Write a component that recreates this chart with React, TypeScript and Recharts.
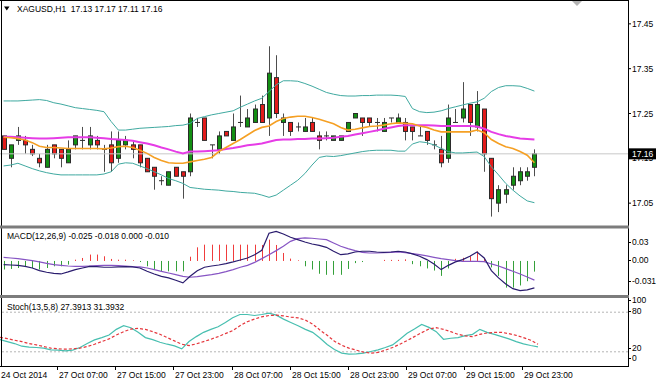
import React from "react";
import { ComposedChart, Bar, Line, XAxis, YAxis, ReferenceLine } from "recharts";

// XAGUSD H1, one entry per hourly bar, first bar = 24 Oct 2014 23:00
const opens = [
  17.20, 17.15, 17.19, 17.19, 17.17, 17.15, 17.13, 17.18, 17.17, 17.14,
  17.18, 17.19, 17.18, 17.19, 17.17, 17.18, 17.15, 17.18, 17.18, 17.18,
  17.15, 17.13, 17.10, 17.09, 17.13, 17.12, 17.12, 17.23, 17.24, 17.18,
  17.17, 17.21, 17.19, 17.23, 17.22, 17.23, 17.27, 17.24, 17.33, 17.23,
  17.23, 17.22, 17.21, 17.23, 17.20, 17.20, 17.19, 17.19, 17.21, 17.24,
  17.24, 17.24, 17.23, 17.21, 17.24, 17.23, 17.23, 17.22, 17.20, 17.21,
  17.18, 17.17, 17.15, 17.23, 17.24, 17.27, 17.22, 17.26, 17.15, 17.05,
  17.07, 17.09, 17.10, 17.11, 17.13,
];
const highs = [
  17.20, 17.18, 17.22, 17.20, 17.18, 17.16, 17.18, 17.18, 17.17, 17.19,
  17.20, 17.22, 17.22, 17.20, 17.18, 17.21, 17.21, 17.20, 17.19, 17.18,
  17.15, 17.13, 17.11, 17.12, 17.13, 17.12, 17.25, 17.24, 17.24, 17.18,
  17.21, 17.21, 17.25, 17.29, 17.26, 17.27, 17.29, 17.40, 17.38, 17.25,
  17.23, 17.23, 17.24, 17.24, 17.21, 17.21, 17.20, 17.20, 17.23, 17.25,
  17.24, 17.24, 17.24, 17.24, 17.24, 17.25, 17.24, 17.22, 17.22, 17.21,
  17.19, 17.20, 17.27, 17.26, 17.32, 17.27, 17.30, 17.26, 17.15, 17.09,
  17.09, 17.13, 17.13, 17.13, 17.17,
];
const lows = [
  17.17, 17.13, 17.18, 17.16, 17.155, 17.13, 17.13, 17.15, 17.13, 17.14,
  17.17, 17.17, 17.17, 17.17, 17.12, 17.12, 17.14, 17.17, 17.15, 17.13,
  17.12, 17.08, 17.09, 17.09, 17.11, 17.06, 17.11, 17.22, 17.19, 17.15,
  17.16, 17.20, 17.19, 17.22, 17.22, 17.23, 17.23, 17.20, 17.24, 17.20,
  17.20, 17.21, 17.21, 17.21, 17.17, 17.19, 17.19, 17.19, 17.21, 17.24,
  17.20, 17.22, 17.21, 17.21, 17.23, 17.23, 17.19, 17.19, 17.20, 17.18,
  17.17, 17.13, 17.14, 17.23, 17.23, 17.20, 17.21, 17.12, 17.02, 17.03,
  17.05, 17.08, 17.09, 17.10, 17.11,
];
const closes = [
  17.17, 17.18, 17.20, 17.18, 17.16, 17.14, 17.17, 17.16, 17.15, 17.17,
  17.20, 17.19, 17.20, 17.18, 17.17, 17.14, 17.19, 17.19, 17.17, 17.14,
  17.12, 17.11, 17.10, 17.12, 17.11, 17.11, 17.24, 17.23, 17.19, 17.18,
  17.20, 17.20, 17.22, 17.23, 17.24, 17.26, 17.23, 17.34, 17.25, 17.24,
  17.21, 17.22, 17.22, 17.21, 17.19, 17.20, 17.20, 17.20, 17.23, 17.25,
  17.23, 17.23, 17.23, 17.23, 17.24, 17.24, 17.21, 17.21, 17.20, 17.19,
  17.18, 17.14, 17.24, 17.23, 17.26, 17.23, 17.27, 17.16, 17.06, 17.08,
  17.08, 17.11, 17.12, 17.12, 17.16,
];

// Bollinger bands (upper / lower) and two moving averages
const bbUpper = [
  17.278, 17.278, 17.278, 17.279, 17.280, 17.281, 17.279, 17.274, 17.271, 17.267,
  17.263, 17.261, 17.259, 17.257, 17.254, 17.232, 17.213, 17.213, 17.215, 17.217,
  17.218, 17.219, 17.220, 17.221, 17.223, 17.224, 17.228, 17.239, 17.243, 17.247,
  17.250, 17.253, 17.256, 17.264, 17.271, 17.278, 17.284, 17.299, 17.314, 17.323,
  17.323, 17.322, 17.317, 17.311, 17.304, 17.297, 17.293, 17.290, 17.289, 17.289,
  17.290, 17.290, 17.291, 17.291, 17.291, 17.290, 17.288, 17.261, 17.254, 17.252,
  17.253, 17.256, 17.261, 17.265, 17.269, 17.273, 17.276, 17.284, 17.299, 17.308,
  17.312, 17.312, 17.311, 17.306, 17.300,
];
const bbLower = [
  17.133, 17.135, 17.139, 17.133, 17.127, 17.122, 17.118, 17.115, 17.113, 17.113,
  17.113, 17.113, 17.113, 17.113, 17.115, 17.120, 17.137, 17.140, 17.139, 17.133,
  17.127, 17.120, 17.113, 17.105, 17.100, 17.094, 17.085, 17.083, 17.081, 17.080,
  17.079, 17.077, 17.076, 17.074, 17.073, 17.072, 17.068, 17.063, 17.068, 17.079,
  17.090, 17.101, 17.116, 17.135, 17.152, 17.155, 17.154, 17.156, 17.159, 17.162,
  17.165, 17.167, 17.168, 17.168, 17.168, 17.166, 17.166, 17.182, 17.187, 17.185,
  17.180, 17.172, 17.165, 17.162, 17.162, 17.163, 17.164, 17.154, 17.131, 17.113,
  17.094, 17.079, 17.066, 17.055, 17.051,
];
const maFast = [
  17.197, 17.196, 17.194, 17.191, 17.185, 17.177, 17.174, 17.174, 17.173, 17.172,
  17.172, 17.172, 17.172, 17.172, 17.171, 17.173, 17.176, 17.177, 17.174, 17.168,
  17.161, 17.152, 17.145, 17.140, 17.139, 17.139, 17.142, 17.145, 17.148, 17.152,
  17.165, 17.174, 17.183, 17.192, 17.202, 17.212, 17.219, 17.222, 17.232, 17.239,
  17.242, 17.244, 17.244, 17.241, 17.237, 17.232, 17.227, 17.219, 17.213, 17.215,
  17.218, 17.221, 17.222, 17.224, 17.227, 17.229, 17.228, 17.227, 17.222, 17.219,
  17.213, 17.209, 17.209, 17.209, 17.209, 17.209, 17.213, 17.207, 17.192, 17.183,
  17.176, 17.172, 17.165, 17.157, 17.140,
];
const maSlow = [
  17.198, 17.198, 17.197, 17.196, 17.195, 17.194, 17.194, 17.195, 17.196, 17.197,
  17.197, 17.197, 17.197, 17.196, 17.195, 17.193, 17.192, 17.191, 17.189, 17.186,
  17.183, 17.179, 17.174, 17.170, 17.165, 17.161, 17.165, 17.165, 17.166, 17.167,
  17.168, 17.171, 17.173, 17.176, 17.179, 17.181, 17.183, 17.187, 17.191, 17.192,
  17.192, 17.193, 17.193, 17.194, 17.194, 17.195, 17.196, 17.198, 17.200, 17.203,
  17.206, 17.209, 17.212, 17.216, 17.219, 17.222, 17.224, 17.224, 17.224, 17.224,
  17.223, 17.222, 17.222, 17.222, 17.222, 17.222, 17.221, 17.216, 17.209, 17.204,
  17.200, 17.197, 17.194, 17.193, 17.192,
];

// MACD(12,26,9)
const macdMain = [
  -0.0034, -0.0038, -0.0041, -0.0050, -0.0066, -0.0091, -0.0106, -0.0116, -0.0122, -0.0103,
  -0.0081, -0.0066, -0.0050, -0.0053, -0.0059, -0.0059, -0.0056, -0.0053, -0.0056, -0.0066,
  -0.0097, -0.0122, -0.0144, -0.0159, -0.0181, -0.0206, -0.0144, -0.0091, -0.0059, -0.0047,
  -0.0038, -0.0025, -0.0009, 0.0009, 0.0028, 0.0059, 0.0100, 0.0260, 0.0278, 0.0253,
  0.0222, 0.0200, 0.0178, 0.0159, 0.0147, 0.0128, 0.0091, 0.0059, 0.0066, 0.0084,
  0.0091, 0.0091, 0.0084, 0.0081, 0.0084, 0.0091, 0.0084, 0.0066, 0.0044, 0.0013,
  -0.0028, -0.0081, -0.0041, -0.0009, 0.0013, 0.0044, 0.0084, 0.0028, -0.0091, -0.0159,
  -0.0216, -0.0260, -0.0278, -0.0272, -0.0253,
];
const macdSignal = [
  0.0034, 0.0028, 0.0022, 0.0013, 0.0003, -0.0009, -0.0022, -0.0034, -0.0041, -0.0047,
  -0.0050, -0.0050, -0.0047, -0.0044, -0.0041, -0.0041, -0.0044, -0.0047, -0.0053, -0.0056,
  -0.0066, -0.0081, -0.0097, -0.0113, -0.0128, -0.0144, -0.0153, -0.0147, -0.0138, -0.0128,
  -0.0116, -0.0100, -0.0081, -0.0059, -0.0041, -0.0013, 0.0022, 0.0059, 0.0097, 0.0138,
  0.0184, 0.0210, 0.0216, 0.0213, 0.0206, 0.0200, 0.0169, 0.0138, 0.0116, 0.0097,
  0.0081, 0.0075, 0.0075, 0.0078, 0.0081, 0.0084, 0.0078, 0.0069, 0.0059, 0.0047,
  0.0034, 0.0022, 0.0013, 0.0003, -0.0003, -0.0003, -0.0003, -0.0006, -0.0028, -0.0047,
  -0.0072, -0.0097, -0.0122, -0.0150, -0.0180,
];
const macdHist = [
  -0.0080, -0.0075, -0.0066, -0.0050, -0.0066, -0.0080, -0.0066, -0.0050, -0.0050, -0.0034,
  0.0012, 0.0028, 0.0060, 0.0060, 0.0044, 0.0019, 0.0012, 0.0012, 0.0006, -0.0010,
  -0.0050, -0.0075, -0.0097, -0.0097, -0.0097, -0.0097, 0.0040, 0.0128, 0.0153, 0.0153,
  0.0153, 0.0153, 0.0153, 0.0153, 0.0153, 0.0153, 0.0150, 0.0200, 0.0150, 0.0075,
  0.0022, 0.0006, -0.0050, -0.0080, -0.0120, -0.0130, -0.0130, -0.0130, -0.0075, -0.0020,
  -0.0010, 0, 0, 0.0010, 0.0010, 0.0010, 0.0015, -0.0030, -0.0050, -0.0070,
  -0.0090, -0.0140, -0.0070, 0.0020, 0.0030, 0.0045, 0.0090, 0.0020, -0.0060, -0.0140,
  -0.0250, -0.0250, -0.0230, -0.0190, -0.0100,
];

// Stoch(13,5,8)
const stochK = [
  38.5, 35.5, 32.5, 28.5, 27, 26.5, 25.5, 23, 22.5, 21.5,
  22.5, 26.5, 32.5, 38, 41.5, 45.5, 54, 59.5, 56.5, 49.5,
  41.5, 38.5, 34.5, 31.5, 29, 24.5, 35.5, 43, 49.5, 54,
  58, 64.5, 71.5, 76.5, 76.5, 75, 76.5, 78.5, 75.5, 69.5,
  64.5, 59.5, 54, 49.5, 41, 31, 23.5, 18, 16.5, 17,
  18, 20.5, 23, 26.5, 30.5, 39, 48, 54.5, 61.5, 57,
  50.5, 39, 40.5, 41.5, 44.5, 46.5, 54, 49.5, 46.5, 43,
  39.5, 35.5, 32, 29.5, 27.3913,
];
const stochD = [
  42, 40, 37.5, 35.5, 32.5, 30.5, 28, 25.5, 24.5, 24,
  24.5, 25.5, 28, 31.5, 35.5, 39.5, 45.5, 50.5, 54.5, 55.5,
  54, 50.5, 46.5, 41.5, 36.5, 31.5, 29.5, 32, 35.5, 39,
  43, 47.5, 52, 59.5, 65.5, 69.5, 73, 75, 75.5, 74.5,
  72.5, 71.5, 68, 62, 53, 45, 36, 30, 25.5, 22.5,
  19.5, 18, 19, 22.5, 26.5, 31.5, 37, 43, 49, 54.5,
  56.5, 54, 50.5, 46.5, 44, 43, 46.5, 48.5, 49.5, 49.5,
  47.5, 45, 41.5, 37.5, 31.3932,
];

// time scale labels, and the bar each one sits on
const timeTickBars = [0, 8, 16, 24, 32, 40, 48, 56, 64, 72];
const timeTickLabels = [
  "24 Oct 2014", "27 Oct 07:00", "27 Oct 15:00", "27 Oct 23:00", "28 Oct 07:00",
  "28 Oct 15:00", "28 Oct 23:00", "29 Oct 07:00", "29 Oct 15:00", "29 Oct 23:00",
];

const priceTicks = [17.45, 17.35, 17.25, 17.15, 17.05];
const lastPrice = 17.16;
const macdTicks = [0.03, 0, -0.031];
const macdTickLabels = ["0.03", "0.00", "-0.031"];
const stochTicks = [100, 80, 20, 0];
const stochTickLabels = ["100", "80", "20", "0"];
const stochLevels = [80, 20];

const FONT = "Tahoma, 'Liberation Sans', Arial, sans-serif";
const FS = 8.5;
const W = 663;
const AXIS_W = 35;
const SHIFT = 90; // empty room right of the last bar

const BULL = "#138f13";
const BEAR = "#e21b1b";
const EDGE = "#2b2b2b";
const WICK = "#4d4d4d";
const BB = "#3fa9a0";
const MA_FAST = "#f5a024";
const MA_SLOW = "#e63ce6";
const HIST_UP = "#f03c3c";
const HIST_DN = "#35a03a";
const MACD_MAIN = "#2a1c6e";
const MACD_SIG = "#8755c4";
const STOCH_K = "#48bfb0";
const STOCH_D = "#e5363c";

const rows = opens.map((open, i) => ({
  i,
  open,
  high: highs[i],
  low: lows[i],
  close: closes[i],
  range: [lows[i], highs[i]],
  bbUp: bbUpper[i],
  bbDn: bbLower[i],
  maFast: maFast[i],
  maSlow: maSlow[i],
  macd: macdMain[i],
  signal: macdSignal[i],
  hist: macdHist[i],
  k: stochK[i],
  d: stochD[i],
}));

function Candle(props: any) {
  const { x, y, width, height, payload } = props;
  if (!payload || y == null) return null;
  const { open, close, high, low } = payload;
  const span = high - low;
  const at = (v: number) => (span > 0 ? y + ((high - v) / span) * height : y);
  const cx = Math.round(x + width / 2) + 0.5;
  const top = at(Math.max(open, close));
  const bottom = at(Math.min(open, close));
  const up = close > open;
  const down = close < open;
  return (
    <g>
      <line x1={cx} x2={cx} y1={y} y2={y + height} stroke={WICK} />
      {up || down ? (
        <rect
          x={cx - 2}
          y={top}
          width={4}
          height={Math.max(bottom - top, 1)}
          fill={up ? BULL : BEAR}
          stroke={EDGE}
          strokeWidth={1}
        />
      ) : (
        <line x1={cx - 2.5} x2={cx + 2.5} y1={top} y2={top} stroke={EDGE} />
      )}
    </g>
  );
}

function HistBar(props: any) {
  const { x, y, width, height, payload } = props;
  if (!payload || !height) return null;
  const cx = Math.round(x + width / 2) + 0.5;
  return (
    <line
      x1={cx}
      x2={cx}
      y1={y}
      y2={y + height}
      stroke={payload.hist >= 0 ? HIST_UP : HIST_DN}
    />
  );
}

function PriceTick(props: any) {
  const { x, y, payload } = props;
  const v = payload.value;
  if (v === lastPrice) {
    return (
      <g>
        <rect x={x - 3} y={y - 5.5} width={27} height={11} fill="#000" />
        <text x={x} y={y} dominantBaseline="central" fill="#fff" fontSize={FS} fontFamily={FONT}>
          {v.toFixed(2)}
        </text>
      </g>
    );
  }
  return (
    <text x={x} y={y} dominantBaseline="central" fill="#000" fontSize={FS} fontFamily={FONT}>
      {v.toFixed(2)}
    </text>
  );
}

// MT4 squeezes the min/max labels inside the sub-window
function sideTick(values: number[], labels: string[], shifts: number[]) {
  return (props: any) => {
    const { x, y, payload } = props;
    const idx = values.indexOf(payload.value);
    if (idx < 0) return null;
    const ty = y + shifts[idx];
    return (
      <g>
        <line x1={x - 4} x2={x - 1} y1={Math.round(ty) + 0.5} y2={Math.round(ty) + 0.5} stroke="#000" />
        <text x={x} y={ty} dominantBaseline="central" fill="#000" fontSize={FS} fontFamily={FONT}>
          {labels[idx]}
        </text>
      </g>
    );
  };
}

function TimeTick(props: any) {
  const { x, y, payload } = props;
  const idx = timeTickBars.indexOf(payload.value);
  if (idx < 0) return null;
  const tx = Math.round(x) - 0.5;
  return (
    <g>
      <line x1={tx} x2={tx} y1={y + 1.5} y2={y + 5} stroke="#000" />
      <text x={tx + 1.5} y={y + 10} dominantBaseline="central" fill="#000" fontSize={FS} fontFamily={FONT}>
        {timeTickLabels[idx]}
      </text>
    </g>
  );
}

const xAxisProps = {
  dataKey: "i",
  type: "category" as const,
  padding: { left: 0, right: SHIFT },
  interval: 0,
};

export default function App() {
  const last = rows[rows.length - 1];
  const title = `XAGUSD,H1  ${last.open.toFixed(2)} ${last.high.toFixed(2)} ${last.low.toFixed(2)} ${last.close.toFixed(2)}`;
  const histUp = Math.max(0, last.hist);
  const histDn = Math.min(0, last.hist);
  const macdTitle = `MACD(12,26,9) ${last.macd.toFixed(3)} ${last.signal.toFixed(3)} ${histUp.toFixed(3)} ${histDn.toFixed(3)}`;
  const stochTitle = `Stoch(13,5,8) ${last.k.toFixed(4)} ${last.d.toFixed(4)}`;

  return (
    <div style={{ position: "absolute", left: 0, top: 0, width: W, height: 384, background: "#fff", overflow: "hidden" }}>
      <div style={{ position: "absolute", left: 0, top: 0 }}>
        <ComposedChart width={W} height={226} data={rows} margin={{ top: 1, right: 0, bottom: 0, left: 0 }}>
          <XAxis {...xAxisProps} hide />
          <YAxis
            orientation="right"
            width={AXIS_W}
            domain={[16.999, 17.501]}
            allowDataOverflow
            ticks={[...priceTicks, lastPrice]}
            interval={0}
            axisLine={false}
            tickSize={3}
            tickMargin={1}
            tickLine={{ stroke: "#000" }}
            tick={PriceTick}
          />
          <ReferenceLine y={lastPrice} stroke="#c8c8c8" />
          <Bar dataKey="range" barSize={5} shape={Candle} isAnimationActive={false} />
          <Line dataKey="bbUp" stroke={BB} strokeWidth={1} dot={false} isAnimationActive={false} />
          <Line dataKey="bbDn" stroke={BB} strokeWidth={1} dot={false} isAnimationActive={false} />
          <Line dataKey="maSlow" stroke={MA_SLOW} strokeWidth={2} dot={false} isAnimationActive={false} />
          <Line dataKey="maFast" stroke={MA_FAST} strokeWidth={1.6} dot={false} isAnimationActive={false} />
        </ComposedChart>
      </div>

      <div style={{ position: "absolute", left: 0, top: 226 }}>
        <ComposedChart width={W} height={70} data={rows} margin={{ top: 3, right: 0, bottom: 2, left: 0 }}>
          <XAxis {...xAxisProps} hide />
          <YAxis
            orientation="right"
            width={AXIS_W}
            domain={[-0.031, 0.03]}
            allowDataOverflow
            ticks={macdTicks}
            interval={0}
            axisLine={false}
            tickLine={false}
            tickSize={3}
            tickMargin={1}
            tick={sideTick(macdTicks, macdTickLabels, [12.5, -1, -13])}
          />
          <Bar dataKey="hist" barSize={1} shape={HistBar} isAnimationActive={false} />
          <Line dataKey="signal" stroke={MACD_SIG} strokeWidth={1.2} dot={false} isAnimationActive={false} />
          <Line dataKey="macd" stroke={MACD_MAIN} strokeWidth={1.2} dot={false} isAnimationActive={false} />
        </ComposedChart>
      </div>

      <div style={{ position: "absolute", left: 0, top: 296 }}>
        <ComposedChart width={W} height={88} data={rows} margin={{ top: 3, right: 0, bottom: 0, left: 0 }}>
          <XAxis
            {...xAxisProps}
            height={19}
            axisLine={false}
            tickLine={false}
            tickSize={0}
            tickMargin={0}
            tick={TimeTick}
          />
          <YAxis
            orientation="right"
            width={AXIS_W}
            domain={[0, 100]}
            allowDataOverflow
            ticks={stochTicks}
            interval={0}
            axisLine={false}
            tickLine={false}
            tickSize={3}
            tickMargin={1}
            tick={sideTick(stochTicks, stochTickLabels, [1, -1.5, -3.5, -7.5])}
          />
          {stochLevels.map((lv) => (
            <ReferenceLine key={lv} y={lv} stroke="#b4b4b4" strokeDasharray="2 2" />
          ))}
          <Line dataKey="k" stroke={STOCH_K} strokeWidth={1.2} dot={false} isAnimationActive={false} />
          <Line dataKey="d" stroke={STOCH_D} strokeWidth={1.2} strokeDasharray="3 2" dot={false} isAnimationActive={false} />
        </ComposedChart>
      </div>

      <svg width={W} height={384} style={{ position: "absolute", left: 0, top: 0, pointerEvents: "none" }}>
        <line x1={0} x2={629} y1={0.5} y2={0.5} stroke="#000" />
        <line x1={1.5} x2={1.5} y1={0} y2={367} stroke="#000" />
        <line x1={628.5} x2={628.5} y1={0} y2={367} stroke="#000" />
        <rect x={0} y={225.5} width={629} height={3} fill="#7c7c7c" />
        <rect x={0} y={295} width={629} height={3} fill="#7c7c7c" />
        <line x1={0} x2={629} y1={366.5} y2={366.5} stroke="#000" />
        <polygon points="4,6.5 9.5,6.5 6.75,10.5" fill="#000" />
        <text x={17} y={8.5} dominantBaseline="central" fontSize={FS} fontFamily={FONT} fill="#000" style={{ whiteSpace: "pre" }}>
          {title}
        </text>
        <polygon points="572,1 582,1 577,6" fill="#b4b4b4" />
        <text x={7} y={236} dominantBaseline="central" fontSize={FS} fontFamily={FONT} fill="#000">
          {macdTitle}
        </text>
        <text x={7} y={307} dominantBaseline="central" fontSize={FS} fontFamily={FONT} fill="#000">
          {stochTitle}
        </text>
      </svg>
    </div>
  );
}
